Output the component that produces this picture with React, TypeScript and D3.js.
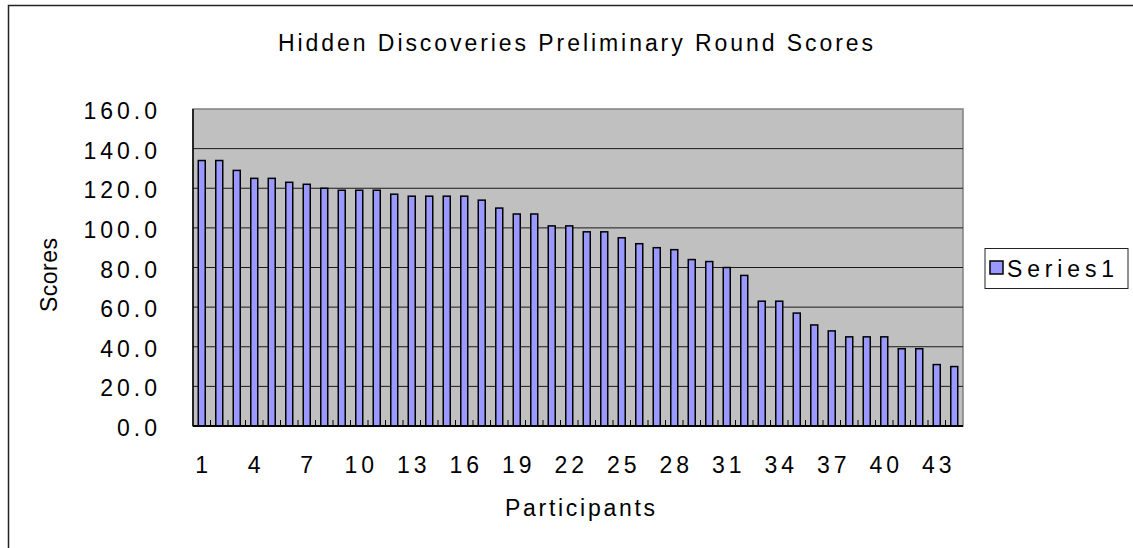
import React, { useEffect, useRef } from "react";
import * as d3 from "d3";

// participant numbers along the x axis
const participants = [
  "1", "2", "3", "4", "5", "6", "7", "8", "9", "10", "11",
  "12", "13", "14", "15", "16", "17", "18", "19", "20", "21", "22",
  "23", "24", "25", "26", "27", "28", "29", "30", "31", "32", "33",
  "34", "35", "36", "37", "38", "39", "40", "41", "42", "43", "44",
];

// Series1 scores
const scores = [
  134, 134, 129, 125, 125, 123, 122, 120, 119, 119, 119,
  117, 116, 116, 116, 116, 114, 110, 107, 107, 101, 101,
  98, 98, 95, 92, 90, 89, 84, 83, 80, 76, 63,
  63, 57, 51, 48, 45, 45, 45, 39, 39, 31, 30,
];

const yTicks = [0, 20, 40, 60, 80, 100, 120, 140, 160];
const xTickLabels = ["1", "4", "7", "10", "13", "16", "19", "22", "25", "28", "31", "34", "37", "40", "43"];

const title = "Hidden Discoveries Preliminary Round Scores";
const seriesName = "Series1";

const W = 1133;
const H = 548;
const FONT = "'Liberation Sans', Arial, sans-serif";

const App: React.FC = () => {
  const ref = useRef<SVGSVGElement | null>(null);

  useEffect(() => {
    const svg = d3.select(ref.current);
    svg.selectAll("*").remove();

    const plot = { left: 193, right: 963, top: 109, bottom: 426 };

    const x = d3
      .scaleBand<string>()
      .domain(participants)
      .range([plot.left, plot.right])
      .paddingInner(0.6)
      .paddingOuter(0.3);

    const y = d3.scaleLinear().domain([0, 160]).range([plot.bottom, plot.top]);

    svg.append("rect").attr("width", W).attr("height", H).attr("fill", "#fff");

    // outer chart frame (runs off the window on right/bottom)
    svg
      .append("rect")
      .attr("x", 8.5)
      .attr("y", 5.5)
      .attr("width", 1300)
      .attr("height", 700)
      .attr("fill", "none")
      .attr("stroke", "#222")
      .attr("stroke-width", 1.5);

    // plot area
    svg
      .append("rect")
      .attr("x", plot.left)
      .attr("y", plot.top)
      .attr("width", plot.right - plot.left)
      .attr("height", plot.bottom - plot.top)
      .attr("fill", "#c0c0c0")
      .attr("stroke", "#808080")
      .attr("stroke-width", 1.5);

    // gridlines
    svg
      .append("g")
      .selectAll("line")
      .data(yTicks.filter((t) => t > 0 && t < 160))
      .enter()
      .append("line")
      .attr("x1", plot.left)
      .attr("x2", plot.right)
      .attr("y1", (d) => y(d))
      .attr("y2", (d) => y(d))
      .attr("stroke", "#1a1a1a")
      .attr("stroke-width", 1);

    // bars
    svg
      .append("g")
      .selectAll("rect")
      .data(scores)
      .enter()
      .append("rect")
      .attr("x", (_, i) => x(participants[i])!)
      .attr("y", (d) => y(d))
      .attr("width", x.bandwidth())
      .attr("height", (d) => y(0) - y(d))
      .attr("fill", "#9999ff")
      .attr("stroke", "#000")
      .attr("stroke-width", 1.5);

    // inside tick marks at category boundaries
    const step = x.step();
    const bounds = d3.range(1, participants.length).map((i) => plot.left + i * step);
    svg
      .append("g")
      .selectAll("line")
      .data(bounds)
      .enter()
      .append("line")
      .attr("x1", (d) => d)
      .attr("x2", (d) => d)
      .attr("y1", plot.bottom)
      .attr("y2", plot.bottom - 6)
      .attr("stroke", "#000")
      .attr("stroke-width", 1);

    // axis lines
    svg
      .append("line")
      .attr("x1", plot.left)
      .attr("x2", plot.left)
      .attr("y1", plot.top)
      .attr("y2", plot.bottom)
      .attr("stroke", "#000")
      .attr("stroke-width", 1.5);
    svg
      .append("line")
      .attr("x1", plot.left)
      .attr("x2", plot.right)
      .attr("y1", plot.bottom)
      .attr("y2", plot.bottom)
      .attr("stroke", "#000")
      .attr("stroke-width", 2);

    const ls = 4;
    const fs = 23;

    // y tick labels
    svg
      .append("g")
      .selectAll("text")
      .data(yTicks)
      .enter()
      .append("text")
      .attr("x", 157 + ls)
      .attr("y", (d) => y(d) + 10)
      .attr("text-anchor", "end")
      .attr("font-family", FONT)
      .attr("font-size", fs)
      .attr("letter-spacing", ls)
      .attr("fill", "#000")
      .text((d) => d.toFixed(1));

    // x tick labels
    svg
      .append("g")
      .selectAll("text")
      .data(xTickLabels)
      .enter()
      .append("text")
      .attr("x", (d) => x(d)! + x.bandwidth() / 2 + ls / 2)
      .attr("y", 473)
      .attr("text-anchor", "middle")
      .attr("font-family", FONT)
      .attr("font-size", fs)
      .attr("letter-spacing", ls)
      .attr("fill", "#000")
      .text((d) => d);

    // title
    svg
      .append("text")
      .attr("x", 278)
      .attr("y", 51)
      .attr("textLength", 595)
      .attr("lengthAdjust", "spacing")
      .attr("font-family", FONT)
      .attr("font-size", 23)
      .attr("fill", "#000")
      .text(title);

    // axis titles
    svg
      .append("text")
      .attr("x", 505)
      .attr("y", 516)
      .attr("textLength", 150)
      .attr("lengthAdjust", "spacing")
      .attr("font-family", FONT)
      .attr("font-size", 23)
      .attr("fill", "#000")
      .text("Participants");

    svg
      .append("text")
      .attr("transform", `translate(57,312) rotate(-90)`)
      .attr("textLength", 74)
      .attr("lengthAdjust", "spacing")
      .attr("font-family", FONT)
      .attr("font-size", 23)
      .attr("fill", "#000")
      .text("Scores");

    // legend
    const lg = svg.append("g");
    lg.append("rect")
      .attr("x", 985)
      .attr("y", 248.5)
      .attr("width", 143)
      .attr("height", 40)
      .attr("fill", "#fff")
      .attr("stroke", "#222")
      .attr("stroke-width", 1);
    lg.append("rect")
      .attr("x", 990)
      .attr("y", 261)
      .attr("width", 13)
      .attr("height", 13)
      .attr("fill", "#9999ff")
      .attr("stroke", "#000")
      .attr("stroke-width", 1.5);
    lg.append("text")
      .attr("x", 1007)
      .attr("y", 277)
      .attr("textLength", 107)
      .attr("lengthAdjust", "spacing")
      .attr("font-family", FONT)
      .attr("font-size", 23)
      .attr("fill", "#000")
      .text(seriesName);
  }, []);

  return (
    <svg
      ref={ref}
      width={W}
      height={H}
      viewBox={`0 0 ${W} ${H}`}
      style={{ position: "absolute", left: 0, top: 0, display: "block" }}
    />
  );
};

export default App;
